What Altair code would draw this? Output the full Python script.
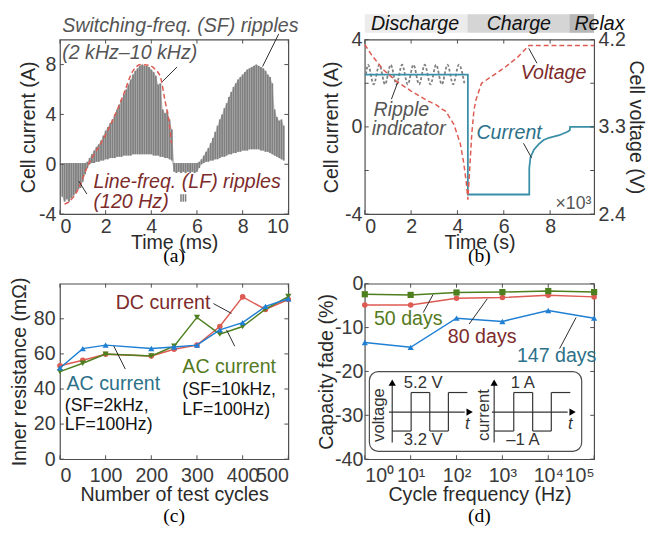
import altair as alt
import pandas as pd

FONT = "Liberation Sans"
SERIF = "Liberation Serif"
FRAME = "#4d4d4d"
LBL = "#3a3a3a"
INK = "#2a2a2a"
RED = "#dd5b52"
BLUE = "#1f7fd3"
GREEN = "#4e7f1e"
TEAL = "#3b8fa6"
GRAY = "#808080"
TXT_RED = "#7d2b2b"
TXT_GREEN = "#557a22"
TXT_TEAL = "#2c7189"
TXT_GRAY = "#555555"

# ---------------- (a) switching / line-frequency ripples ----------------
a_t = [0.1, 0.2, 0.3, 0.4, 0.5, 0.6, 0.7, 0.8, 0.9, 1.0,
       1.1, 1.2, 1.3, 1.4, 1.5, 1.6, 1.7, 1.8, 1.9, 2.0,
       2.1, 2.2, 2.3, 2.4, 2.5, 2.6, 2.7, 2.8, 2.9, 3.0,
       3.1, 3.2, 3.3, 3.4, 3.5, 3.6, 3.7, 3.8, 3.9, 4.0,
       4.1, 4.2, 4.3, 4.4, 4.5, 4.6, 4.7, 4.8, 4.9, 5.0,
       5.1, 5.2, 5.3, 5.4, 5.5, 5.6, 5.7, 5.8, 5.9, 6.0,
       6.1, 6.2, 6.3, 6.4, 6.5, 6.6, 6.7, 6.8, 6.9, 7.0,
       7.1, 7.2, 7.3, 7.4, 7.5, 7.6, 7.7, 7.8, 7.9, 8.0,
       8.1, 8.2, 8.3, 8.4, 8.5, 8.6, 8.7, 8.8, 8.9, 9.0,
       9.1, 9.2, 9.3, 9.4, 9.5, 9.6, 9.7, 9.8]
a_hi = [0.1, 0.1, 0.1, 0.1, 0.1, 0.1, 0.1, 0.1, 0.1, 0.1, 0.1, 0.2,
        0.5, 0.8, 1.1, 1.4, 1.6, 1.9, 2.3, 2.7,
        3.0, 3.3, 3.6, 4.0, 4.4, 4.8, 5.2, 5.6, 6.0, 6.4,
        6.8, 7.2, 7.5, 7.7, 7.9, 8.0, 7.9, 7.9, 7.8, 7.6,
        7.4, 7.1, 6.4, 6.5, 4.4, 4.1, 4.3, 3.6, 2.8, 0.1,
        0.1, 0.1, 0.1, 0.1, 0.1, 0.1, 0.1, 0.1, 0.1, 0.1,
        0.2, 0.4, 0.7, 1.0, 1.3, 1.7, 2.1, 2.6, 3.1, 3.6,
        4.0, 4.5, 4.9, 5.4, 5.8, 6.2, 6.5, 6.8, 7.0, 7.2,
        7.4, 7.6, 7.7, 7.8, 7.9, 8.0, 7.9, 7.8, 7.7, 7.5,
        7.2, 7.0, 6.5, 4.4, 3.8, 3.5, 3.6, 3.1]
a_lo = [-2.6, -3.0, -2.8, -3.0, -2.7, -2.5, -2.3, -2.0, -1.9, -1.4, -0.8, -0.3,
        0.0, 0.1, 0.1, 0.2, 0.2, 0.3, 0.3, 0.4,
        0.4, 0.5, 0.5, 0.5, 0.6, 0.6, 0.6, 0.7, 0.7, 0.7,
        0.7, 0.8, 0.8, 0.8, 0.8, 0.8, 0.8, 0.8, 0.8, 0.8,
        0.7, 0.7, 0.7, 0.6, 0.6, 0.5, 0.5, 0.4, 0.3, -0.6,
        -0.7, -0.6, -0.7, -0.6, -0.7, -0.6, -0.7, -0.6, -0.7, -0.6,
        -0.3, 0.0, 0.1, 0.2, 0.2, 0.3, 0.3, 0.4, 0.4, 0.5,
        0.6, 0.6, 0.7, 0.8, 0.8, 0.9, 0.9, 1.0, 1.0, 1.1,
        1.1, 1.1, 1.2, 1.2, 1.2, 1.2, 1.2, 1.1, 1.1, 1.0,
        1.0, 0.9, 0.8, 0.7, 0.6, 0.5, 0.4, 0.3]
burst_t = [5.3, 5.4, 5.5]
burst_hi = [-2.4, -2.4, -2.4]
burst_lo = [-3.0, -3.0, -3.0]
lf_t = [0.2, 0.4, 0.6, 0.8, 1.0, 1.25, 1.5, 1.8, 2.3, 2.76, 3.19, 3.55, 3.9, 4.18, 4.4, 4.6, 4.77, 4.88]
lf_v = [-3.2, -3.0, -2.6, -2.0, -1.1, 0.0, 0.8, 1.7, 3.5, 5.5, 7.47, 8.0, 7.94, 7.6, 7.0, 5.1, 3.5, 1.7]
a_text = ["Switching-freq. (SF) ripples", "(2 kHz\u201310 kHz)", "Line-freq. (LF) ripples", "(120 Hz)"]
a_text_x = [0.1, 0.1, 1.47, 1.47]
a_text_y = [11.12, 8.89, -1.47, -3.04]
a_text_c = [TXT_GRAY, TXT_GRAY, TXT_RED, TXT_RED]
a_lead = [(5.13, 7.81, 4.48, 6.63), (9.58, 10.46, 8.87, 7.84), (1.18, -2.39, 0.82, -1.34)]

# ---------------- (b) discharge / charge profile ----------------
cur_t = [0, 4.45, 4.45, 7.1, 7.1, 7.15, 7.3, 7.5, 7.72, 7.95, 8.15, 8.4, 8.57, 8.75, 8.85, 8.86, 9.9]
cur_v = [2.4, 2.4, -3.1, -3.1, -1.9, -1.4, -1.05, -0.8, -0.6, -0.5, -0.45, -0.38, -0.3, -0.22, -0.15, 0.0, 0.0]
rip_t = [0.05, 0.14, 0.385, 0.63, 0.875, 1.12, 1.365, 1.61, 1.855, 2.10, 2.345, 2.59, 2.835,
         3.08, 3.325, 3.57, 3.815, 4.06, 4.3]
rip_v = [2.4, 2.85, 1.95, 2.85, 1.95, 2.85, 1.95, 2.85, 1.95, 2.85, 1.95, 2.85, 1.95,
         2.85, 1.95, 2.85, 1.95, 2.85, 2.0]
volt_t = [0, 0.3, 0.8, 1.37, 2.0, 2.7, 3.07, 3.35, 3.5, 3.84, 4.12, 4.27, 4.38, 4.45,
          4.55, 4.62, 4.71, 4.8, 5.04, 5.47, 6.03, 6.6, 7.09, 9.9]
volt_v = [4.15, 4.04, 3.89, 3.77, 3.67, 3.57, 3.53, 3.48, 3.46, 3.33, 3.13, 2.93, 2.73, 2.55,
          2.95, 3.23, 3.47, 3.58, 3.75, 3.82, 3.91, 4.02, 4.14, 4.14]
phase_name = ["Discharge", "Charge", "Relax"]
phase_start = [0, 4.43, 8.83]
phase_end = [4.43, 8.83, 9.9]
phase_fill = ["#ececec", "#d5d5d5", "#b8b8b8"]
phase_label_x = [2.17, 6.65, 10.13]
b_text = ["Voltage", "Ripple", "indicator", "Current"]
b_text_x = [6.73, 0.38, 0.30, 4.82]
b_text_y = [2.47, 0.75, -0.08, -0.30]
b_text_c = [TXT_RED, TXT_GRAY, TXT_GRAY, TXT_TEAL]
b_lead = [(7.08, 3.6, 7.43, 2.92), (1.15, 1.27, 1.44, 2.09), (6.85, -0.75, 7.2, -1.42)]

# ---------------- (c) inner resistance ----------------
cycles = [0, 50, 100, 200, 250, 300, 350, 400, 450, 500]
r_dc = [53.2, 56.4, 59.8, 58.8, 62.6, 65.0, 75.6, 92.5, 85.3, 91.0]
r_ac2 = [52.0, 63.0, 65.0, 63.1, 63.9, 65.0, 73.7, 77.8, 87.1, 91.4]
r_ac10 = [49.9, 54.7, 59.9, 58.8, 64.4, 80.8, 71.3, 75.6, 85.5, 92.7]
c_text = ["DC current", "AC current", "(SF=10kHz,", "LF=100Hz)", "AC current", "(SF=2kHz,", "LF=100Hz)"]
c_text_x = [122, 268, 268, 268, 14.4, 10.7, 10.7]
c_text_y = [88.7, 52.3, 39.3, 28.1, 43.0, 30.0, 19.7]
c_text_c = [TXT_RED, TXT_GREEN, "#111111", "#111111", TXT_TEAL, "#111111", "#111111"]
c_text_s = [20, 20, 18, 18, 20, 18, 18]
c_lead = [(336, 88.7, 375.5, 83.1), (382.6, 64.4, 364.8, 73.7), (143, 51.4, 118, 64.4)]

# ---------------- (d) capacity fade ----------------
freq = [1, 10, 100, 1000, 10000, 100000]
fade50 = [-2.4, -2.55, -2.0, -1.9, -1.66, -1.9]
fade80 = [-4.87, -4.87, -3.3, -3.14, -2.62, -3.0]
fade147 = [-13.4, -14.5, -7.85, -8.6, -6.1, -7.85]
d_text = ["50 days", "80 days", "147 days"]
d_text_x = [1.58, 64.7, 2070]
d_text_y = [-8.1, -12.2, -16.5]
d_text_c = [TXT_GREEN, TXT_RED, TXT_TEAL]
d_lead = [(18.8, -6.58, 30.8, -2.47), (188, -9.21, 468, -3.44), (17660, -14.8, 40400, -7.7)]

MINUS = "datum.value < 0 ? '-' + abs(datum.value) : '' + datum.value"
SUP = "'10' + ['\u2070','\u00b9','\u00b2','\u00b3','\u2074','\u2075'][round(log(datum.value)/LN10)]"


def axis(values, title, title_pad, label_pad=4, orient=None, label_expr=None):
    kw = dict(values=values, title=title, titlePadding=title_pad, labelPadding=label_pad,
              labelFontSize=20, titleFontSize=20, labelColor=LBL, titleColor=INK,
              titleFontWeight="normal", domain=False, ticks=False, grid=False,
              labelOverlap=False, labelFont=FONT, titleFont=FONT)
    if orient:
        kw["orient"] = orient
    if label_expr:
        kw["labelExpr"] = label_expr
    return alt.Axis(**kw)


def enc(chan, scale, ax):
    def f(field):
        return chan(field, type="quantitative", scale=scale, axis=ax)
    return f


def inward(xv, yv, W, H, X, Y, L=4):
    dx = pd.DataFrame({"tv": xv})
    dy = pd.DataFrame({"tv": yv})
    m = dict(color=FRAME, strokeWidth=1)
    return [
        alt.Chart(dx).mark_rule(**m).encode(x=X("tv"), y=alt.value(H), y2=alt.value(H - L)),
        alt.Chart(dx).mark_rule(**m).encode(x=X("tv"), y=alt.value(0), y2=alt.value(L)),
        alt.Chart(dy).mark_rule(**m).encode(y=Y("tv"), x=alt.value(0), x2=alt.value(L)),
        alt.Chart(dy).mark_rule(**m).encode(y=Y("tv"), x=alt.value(W), x2=alt.value(W - L)),
    ]


def caption(label, W, y):
    return alt.Chart(pd.DataFrame({"c": [label]})).mark_text(
        font=SERIF, fontSize=20, color="black", baseline="middle"
    ).encode(text="c:N", x=alt.value(W / 2), y=alt.value(y))


def leaders(rows, X, Y):
    df = pd.DataFrame(rows, columns=["x", "y", "x2", "y2"])
    return alt.Chart(df).mark_rule(color=INK, strokeWidth=1).encode(
        x=X("x"), x2="x2", y=Y("y"), y2="y2")


def texts(labels, xs, ys, colors, X, Y, sizes=None, italic=False, align="left"):
    df = pd.DataFrame({"x": xs, "y": ys, "text": labels, "color": colors,
                       "size": sizes if sizes else [20] * len(labels)})
    return alt.Chart(df).mark_text(align=align, baseline="middle",
                                   fontStyle="italic" if italic else "normal").encode(
        x=X("x"), y=Y("y"), text="text:N",
        color=alt.Color("color:N", scale=None), size=alt.Size("size:Q", scale=None))


# ======== panel (a) ========
AW, AH = 233, 178
XA = enc(alt.X, alt.Scale(domain=[0, 10], nice=False, zero=False),
         axis([0, 2, 4, 6, 8, 10], "Time (ms)", -4, 3))
YA = enc(alt.Y, alt.Scale(domain=[-4, 10], nice=False, zero=False),
         axis([-4, 0, 4, 8], "Cell current (A)", 0, 4, label_expr=MINUS))
df_wave = pd.DataFrame({"t": a_t, "hi": a_hi, "lo": a_lo})
df_burst = pd.DataFrame({"t": burst_t, "hi": burst_hi, "lo": burst_lo})
df_lf = pd.DataFrame({"t": lf_t, "v": lf_v})
panel_a = alt.layer(
    alt.Chart(df_wave).mark_area(color=GRAY, opacity=0.5).encode(x=XA("t"), y=YA("lo"), y2="hi"),
    alt.Chart(df_wave).mark_rule(color=GRAY, strokeWidth=1.8).encode(x=XA("t"), y=YA("lo"), y2="hi"),
    alt.Chart(df_burst).mark_rule(color=GRAY, strokeWidth=1.6).encode(x=XA("t"), y=YA("lo"), y2="hi"),
    alt.Chart(df_lf).mark_line(color=RED, strokeDash=[5, 3], strokeWidth=1.5,
                               interpolate="monotone").encode(x=XA("t"), y=YA("v")),
    leaders(a_lead, XA, YA),
    texts(a_text, a_text_x, a_text_y, a_text_c, XA, YA, italic=True),
    *inward([0, 2, 4, 6, 8, 10], [-4, 0, 4, 8], AW, AH, XA, YA),
    caption("(a)", AW, AH + 43),
).properties(width=AW, height=AH)

# ======== panel (b) ========
BW, BH = 234, 178
XB = enc(alt.X, alt.Scale(domain=[0, 9.9], nice=False, zero=False),
         axis([0, 2, 4, 6, 8], "Time (s)", -4, 3))
YB = enc(alt.Y, alt.Scale(domain=[-4, 4], nice=False, zero=False),
         axis([-4, 0, 4], "Cell current (A)", 3, 3, label_expr=MINUS))
YV = enc(alt.Y, alt.Scale(domain=[2.4, 4.2], nice=False, zero=False),
         axis([2.4, 3.3, 4.2], "Cell voltage (V)", 0, 4, orient="right", label_expr=MINUS))
df_phase = pd.DataFrame({"s": phase_start, "e": phase_end, "fill": phase_fill,
                         "name": phase_name, "lx": phase_label_x})
df_cur = pd.DataFrame({"t": cur_t, "v": cur_v})
df_rip = pd.DataFrame({"t": rip_t, "v": rip_v})
df_volt = pd.DataFrame({"t": volt_t, "v": volt_v})
left_b = alt.layer(
    alt.Chart(df_phase).mark_rect().encode(x=XB("s"), x2="e", y=alt.value(-26), y2=alt.value(-7),
                                           color=alt.Color("fill:N", scale=None)),
    alt.Chart(df_phase).mark_text(fontSize=20, fontStyle="italic", color="#111111",
                                  baseline="middle").encode(x=XB("lx"), y=alt.value(-16), text="name:N"),
    alt.Chart(df_rip).mark_line(color=GRAY, strokeDash=[3, 2], strokeWidth=1.8,
                                interpolate="monotone").encode(x=XB("t"), y=YB("v")),
    alt.Chart(df_cur).mark_line(color=TEAL, strokeWidth=1.8).encode(x=XB("t"), y=YB("v")),
    leaders(b_lead, XB, YB),
    texts(b_text, b_text_x, b_text_y, b_text_c, XB, YB, italic=True),
    texts(["\u00d710\u00b3"], [9.78], [-3.52], [TXT_GRAY], XB, YB, sizes=[18], align="right"),
    *inward([0, 2, 4, 6, 8], [-4, -2, 0, 2, 4], BW, BH, XB, YB),
    caption("(b)", BW, BH + 43),
)
volt_b = alt.Chart(df_volt).mark_line(color=RED, strokeDash=[5, 3], strokeWidth=1.5).encode(
    x=XB("t"), y=YV("v"))
panel_b = alt.layer(left_b, volt_b).resolve_scale(y="independent").properties(width=BW, height=BH)

# ======== panel (c) ========
CW, CH = 233, 179
XC = enc(alt.X, alt.Scale(domain=[0, 500], nice=False, zero=False),
         axis([0, 100, 200, 300, 400, 500], "Number of test cycles", -1, 7))
YC = enc(alt.Y, alt.Scale(domain=[0, 100], nice=False, zero=False),
         axis([0, 20, 40, 60, 80], "Inner resistance (m\u03a9)", 4, 5))
df_c = pd.DataFrame({"n": cycles, "dc": r_dc, "ac2": r_ac2, "ac10": r_ac10})


def series(df, xf, yf, X, Y, color, shape, size):
    return alt.Chart(df).mark_line(
        color=color, strokeWidth=1.5,
        point=alt.OverlayMarkDef(shape=shape, size=size, filled=True, color=color, opacity=1)
    ).encode(x=X(xf), y=Y(yf))


panel_c = alt.layer(
    series(df_c, "n", "dc", XC, YC, RED, "circle", 32),
    series(df_c, "n", "ac10", XC, YC, GREEN, "triangle-down", 40),
    series(df_c, "n", "ac2", XC, YC, BLUE, "triangle-up", 40),
    leaders(c_lead, XC, YC),
    texts(c_text, c_text_x, c_text_y, c_text_c, XC, YC, sizes=c_text_s),
    *inward([0, 100, 200, 300, 400, 500], [0, 20, 40, 60, 80], CW, CH, XC, YC),
    caption("(c)", CW, CH + 58),
).properties(width=CW, height=CH)

# ======== panel (d) ========
DW, DH = 234, 179
XD = enc(alt.X, alt.Scale(type="log", domain=[1, 100000], nice=False),
         axis(freq, "Cycle frequency (Hz)", -1, 7, label_expr=SUP))
YD = enc(alt.Y, alt.Scale(domain=[-40, 0], nice=False, zero=False),
         axis([0, -10, -20, -30, -40], "Capacity fade (%)", -2, 2, label_expr=MINUS))
df_d = pd.DataFrame({"f": freq, "d50": fade50, "d80": fade80, "d147": fade147})

# inset schematic (panel-local pixels): square-wave test signals
dummy = pd.DataFrame({"d": [0]})
inset_segments = [
    (28, 162, 28, 102), (24.7, 131, 102, 131),
    (28, 150.3, 47.3, 150.3), (47.3, 150.3, 47.3, 111), (47.3, 111, 66.3, 111), (66.3, 111, 66.3, 150.3),
    (66.3, 150.3, 85.3, 150.3), (85.3, 150.3, 85.3, 111), (85.3, 111, 104.7, 111),
    (132, 162, 132, 102), (129.7, 131, 207, 131),
    (132, 150.3, 152, 150.3), (152, 150.3, 152, 111), (152, 111, 171.3, 111), (171.3, 111, 171.3, 150.3),
    (171.3, 150.3, 190.3, 150.3), (190.3, 150.3, 190.3, 111), (190.3, 111, 209.7, 111),
]
inset_heads = [(28, 101, "triangle-up"), (107, 131, "triangle-right"),
               (132, 101, "triangle-up"), (212, 131, "triangle-right")]
inset_labels = [("voltage", 15, 134, 270, "normal"), ("5.2 V", 59.7, 101, 0, "normal"),
                ("3.2 V", 59.7, 160, 0, "normal"), ("t", 104.7, 143.7, 0, "italic"),
                ("current", 121.3, 134, 270, "normal"), ("1 A", 161.3, 101, 0, "normal"),
                ("\u20131 A", 161.3, 160, 0, "normal"), ("t", 209.7, 143.7, 0, "italic")]
inset_layers = [
    alt.Chart(dummy).mark_rect(cornerRadius=9, fill="white", stroke=FRAME, strokeWidth=1.2).encode(
        x=alt.value(4.7), x2=alt.value(221.3), y=alt.value(89.7), y2=alt.value(171))
]
for x1, y1, x2, y2 in inset_segments:
    inset_layers.append(alt.Chart(dummy).mark_rule(color="#333333", strokeWidth=1.2).encode(
        x=alt.value(x1), y=alt.value(y1), x2=alt.value(x2), y2=alt.value(y2)))
for hx, hy, shp in inset_heads:
    inset_layers.append(alt.Chart(dummy).mark_point(shape=shp, size=55, filled=True, color="black",
                                                    opacity=1).encode(x=alt.value(hx), y=alt.value(hy)))
for lab, lx, ly, ang, sty in inset_labels:
    inset_layers.append(alt.Chart(pd.DataFrame({"s": [lab]})).mark_text(
        fontSize=17, color="#333333", baseline="middle", angle=ang, fontStyle=sty).encode(
        text="s:N", x=alt.value(lx), y=alt.value(ly)))

panel_d = alt.layer(
    series(df_d, "f", "d80", XD, YD, RED, "circle", 32),
    series(df_d, "f", "d50", XD, YD, GREEN, "square", 40),
    series(df_d, "f", "d147", XD, YD, BLUE, "triangle-up", 40),
    leaders(d_lead, XD, YD),
    texts(d_text, d_text_x, d_text_y, d_text_c, XD, YD),
    *inset_layers,
    *inward(freq, [0, -10, -20, -30, -40], DW, DH, XD, YD),
    caption("(d)", DW, DH + 58),
).properties(width=DW, height=DH)

chart = alt.concat(
    panel_a, panel_b, panel_c, panel_d, columns=2,
    spacing={"row": 71, "column": 78}, bounds="flush"
).properties(
    padding={"left": 1, "top": 0, "right": 4, "bottom": 0}
).configure(font=FONT).configure_view(stroke=FRAME, strokeWidth=1.2)

chart.save("out.html", embed_options={"renderer": "svg", "actions": False})
